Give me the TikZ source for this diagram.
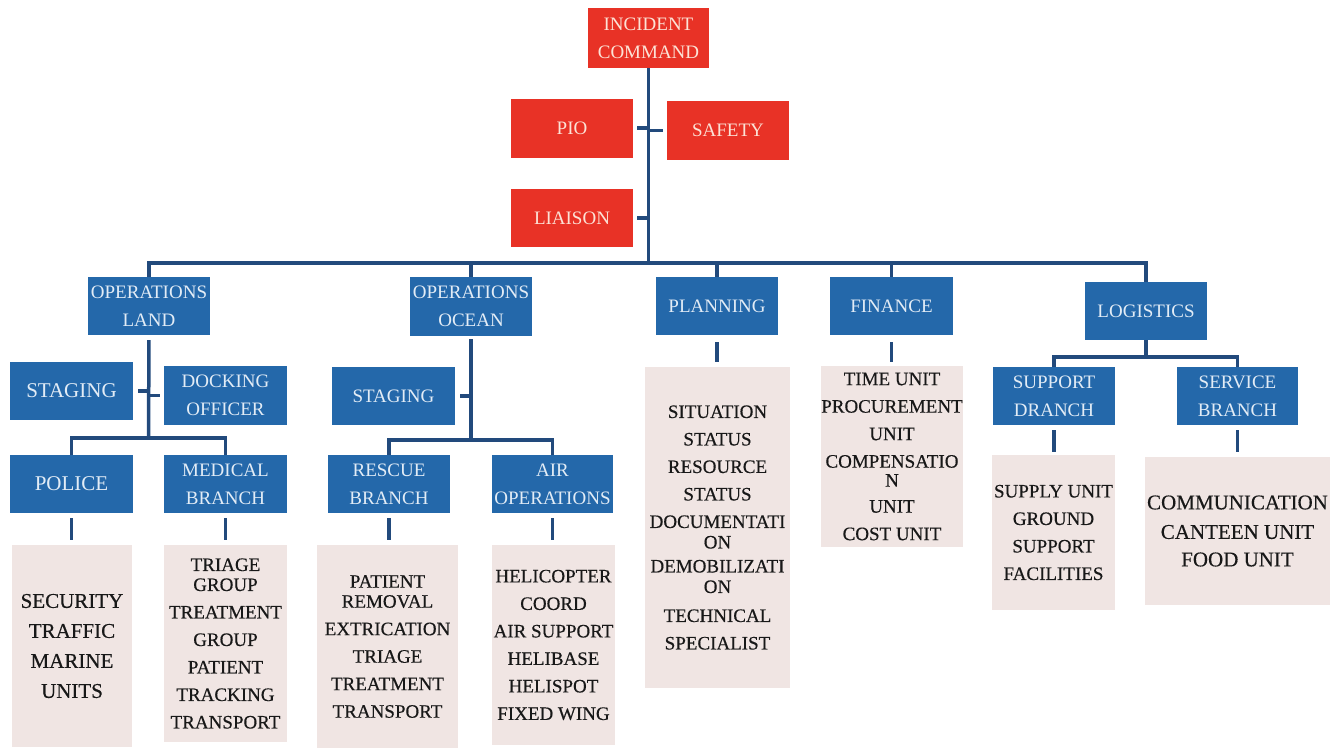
\documentclass[tikz,border=0pt]{standalone}
\usepackage{fontspec}
\setmainfont{Liberation Serif}
\newfontfamily\listfont[FakeBold=0.4]{Liberation Serif}
\definecolor{icred}{RGB}{232,50,38}
\definecolor{redtext}{RGB}{252,226,214}
\definecolor{icblue}{RGB}{36,104,170}
\definecolor{bluetext}{RGB}{226,236,246}
\definecolor{linkblue}{RGB}{34,74,124}
\definecolor{listfill}{RGB}{240,229,227}
\definecolor{listtext}{RGB}{24,24,24}
\begin{document}
\begin{tikzpicture}[x=1pt,y=-1pt,
  base/.style={rectangle, inner sep=0pt, align=center, font=\fontsize{19}{28}\selectfont},
  redbox/.style={base, fill=icred, text=redtext, minimum width=122pt, minimum height=59pt},
  bluebox/.style={base, fill=icblue, text=bluetext, minimum width=122pt, minimum height=58pt},
  bigtext/.style={font=\fontsize{21}{28}\selectfont},
  listbox/.style={rectangle, inner sep=0pt, align=center, fill=listfill, text=listtext,
    font=\listfont\fontsize{19}{27.5}\selectfont},
  biglist/.style={font=\listfont\fontsize{21}{27.5}\selectfont},
  link/.style={draw=linkblue, line width=3.5pt}]
\useasboundingbox (0,0) rectangle (1337,748);

% command staff
\node[redbox, minimum width=121pt, minimum height=60pt] (ic) at (648.5,38) {INCIDENT\\COMMAND};
\node[redbox] (pio) at (572,128) {PIO};
\node[redbox] (safety) at (728,130.5) {SAFETY};
\node[redbox, minimum height=58pt] (liaison) at (572,218) {LIAISON};

% sections
\node[bluebox] (opl) at (149,306) {OPERATIONS\\LAND};
\node[bluebox, minimum height=59pt] (opo) at (471,306.5) {OPERATIONS\\OCEAN};
\node[bluebox] (plan) at (717,306) {PLANNING};
\node[bluebox, minimum width=123pt] (fin) at (891.5,306) {FINANCE};
\node[bluebox] (log) at (1146,311) {LOGISTICS};

% land operations
\node[bluebox, bigtext, minimum width=123pt] (stg1) at (71.5,391) {STAGING};
\node[bluebox, minimum width=123pt, minimum height=59pt] (dock) at (225.5,395.5) {DOCKING\\OFFICER};
\node[bluebox, bigtext, minimum width=123pt] (pol) at (71.5,484) {POLICE};
\node[bluebox, minimum width=123pt] (med) at (225.5,484) {MEDICAL\\BRANCH};

% ocean operations
\node[bluebox, minimum width=123pt] (stg2) at (393.5,396) {STAGING};
\node[bluebox] (resc) at (389,484) {RESCUE\\BRANCH};
\node[bluebox, minimum width=121pt] (air) at (552.5,484) {AIR\\OPERATIONS};

% logistics branches
\node[bluebox] (sup) at (1054,396) {SUPPORT\\DRANCH};
\node[bluebox, minimum width=121pt] (serv) at (1237.5,396) {SERVICE\\BRANCH};

% unit lists
\node[listbox, biglist, minimum width=120pt, minimum height=202pt] (polL) at (72,646)
  {SECURITY\\[2.5pt]TRAFFIC\\[2.5pt]MARINE\\[2.5pt]UNITS};
\node[listbox, minimum width=123pt, minimum height=197pt] (medL) at (225.5,643.5)
  {TRIAGE\\[-7.5pt]GROUP\\TREATMENT\\GROUP\\PATIENT\\TRACKING\\TRANSPORT};
\node[listbox, minimum width=141pt, minimum height=203pt] (rescL) at (387.5,646.5)
  {PATIENT\\[-7.5pt]REMOVAL\\EXTRICATION\\TRIAGE\\TREATMENT\\TRANSPORT};
\node[listbox, minimum width=123pt, minimum height=200pt] (airL) at (553.5,645)
  {HELICOPTER\\COORD\\AIR SUPPORT\\HELIBASE\\HELISPOT\\FIXED WING};
\node[listbox, minimum width=145pt, minimum height=321pt] (planL) at (717.5,527.5)
  {SITUATION\\STATUS\\RESOURCE\\STATUS\\DOCUMENTATI\\[-7pt]ON\\[-3.5pt]DEMOBILIZATI\\[-7pt]ON\\[1.5pt]TECHNICAL\\SPECIALIST};
\node[listbox, minimum width=141pt, minimum height=181pt] (finL) at (892,456.5)
  {TIME UNIT\\PROCUREMENT\\UNIT\\COMPENSATIO\\[-8.5pt]N\\[-1.5pt]UNIT\\COST UNIT};
\node[listbox, minimum width=123pt, minimum height=155pt] (supL) at (1053.5,532.5)
  {SUPPLY UNIT\\GROUND\\SUPPORT\\FACILITIES};
\node[listbox, biglist, minimum width=185pt, minimum height=148pt] (servL) at (1237.5,531)
  {COMMUNICATION\\[2pt]CANTEEN UNIT\\FOOD UNIT};

% junction points
\coordinate (bus) at (648.5,263);
\coordinate (landbar) at (148.5,438);
\coordinate (oceanbar) at (471,440);
\coordinate (logbar) at (1146,357);

% command trunk and staff ticks
\draw[link] (ic.south) -- (ic.south |- bus);
\draw[link, shorten <=4pt] (pio.east) -- (pio.east -| ic.south);
\draw[link, shorten <=4pt] (safety.west) -- (safety.west -| ic.south);
\draw[link, shorten <=4pt] (liaison.east) -- (liaison.east -| ic.south);

% section bus
\draw[link] (opl.north) -- (opl.north |- bus) -- (log.north |- bus) -- (log.north);
\draw[link] (opo.north) -- (opo.north |- bus);
\draw[link] (plan.north) -- (plan.north |- bus);
\draw[link] (fin.north) -- (fin.north |- bus);

% land operations tree
\draw[link, shorten <=5pt] (opl.south) -- (landbar);
\draw[link, shorten <=5pt] (stg1.east) -- (stg1.east -| landbar);
\draw[link, shorten <=4pt] (dock.west) -- (dock.west -| landbar);
\draw[link] (pol.north) -- (pol.north |- landbar) -- (med.north |- landbar) -- (med.north);

% ocean operations tree
\draw[link, shorten <=3pt] (opo.south) -- (oceanbar);
\draw[link, shorten <=5pt] (stg2.east) -- (stg2.east -| oceanbar);
\draw[link] (resc.north) -- (resc.north |- oceanbar) -- (air.north |- oceanbar) -- (air.north);

% logistics tree
\draw[link] (log.south) -- (logbar);
\draw[link] (sup.north) -- (sup.north |- logbar) -- (serv.north |- logbar) -- (serv.north);

% box to unit list drops
\draw[link, shorten <=5pt, shorten >=5pt] (pol.south) -- (pol.south |- polL.north);
\draw[link, shorten <=5pt, shorten >=5pt] (med.south) -- (med.south |- medL.north);
\draw[link, shorten <=5pt, shorten >=5pt] (resc.south) -- (resc.south |- rescL.north);
\draw[link, shorten <=5pt, shorten >=5pt] (air.south) -- (air.south |- airL.north);
\draw[link, shorten <=7pt, shorten >=5pt] (plan.south) -- (plan.south |- planL.north);
\draw[link, shorten <=7pt, shorten >=4pt] (fin.south) -- (fin.south |- finL.north);
\draw[link, shorten <=5pt, shorten >=3pt] (sup.south) -- (sup.south |- supL.north);
\draw[link, shorten <=5pt, shorten >=5pt] (serv.south) -- (serv.south |- servL.north);
\end{tikzpicture}
\end{document}
